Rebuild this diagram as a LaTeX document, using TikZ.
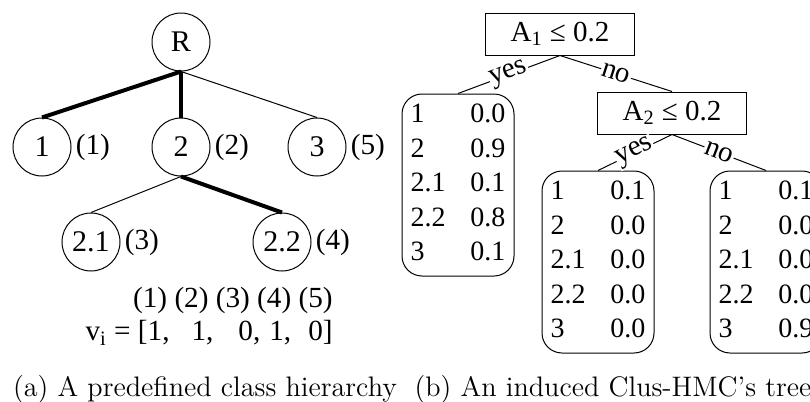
\documentclass[tikz,border=0pt]{standalone}
\usepackage{fontspec}
\newfontfamily\timesfont{Liberation Serif}
\newcommand{\probtab}[5]{\begin{tabular}{@{}l@{\hspace{12.5pt}}r@{}}1 & #1\\ 2 & #2\\ 2.1 & #3\\ 2.2 & #4\\ 3 & #5\end{tabular}}
\begin{document}
\begin{tikzpicture}[x=0.5pt, y=-0.5pt, label distance=2pt,
  cls/.style={circle, draw, line width=0.5pt, minimum size=29pt, inner sep=0pt,
    font=\timesfont\fontsize{15}{18}\selectfont},
  idx/.style={inner sep=0pt, font=\timesfont\fontsize{14.6}{17}\selectfont},
  on/.style={line width=2pt},
  off/.style={line width=0.5pt},
  test/.style={draw, line width=0.5pt, minimum width=74.5pt, minimum height=21pt,
    inner sep=0pt, font=\timesfont\fontsize{14.5}{17}\selectfont},
  leaf/.style={draw, line width=0.5pt, rounded corners=10pt, minimum width=56pt,
    minimum height=91pt, inner sep=2pt, font=\timesfont\fontsize{14}{17.25}\selectfont},
  branch/.style={sloped, fill=white, inner sep=0.5pt, font=\timesfont\fontsize{14.5}{17}\selectfont},
  caption/.style={inner sep=0pt, font=\fontsize{14.1}{17}\selectfont}]
  \useasboundingbox (0, 0) rectangle (810, 402);

  % (a) class hierarchy
  \node[cls] (r) at (181, 42) {R};
  \node[cls, label={[idx]east:(1)}] (c1) at (42, 147) {1};
  \node[cls, label={[idx]east:(2)}] (c2) at (181, 147) {2};
  \node[cls, label={[idx]east:(5)}] (c3) at (317, 147) {3};
  \node[cls, label={[idx]east:(3)}] (c21) at (91, 242) {2.1};
  \node[cls, label={[idx]east:(4)}] (c22) at (282, 242) {2.2};

  \draw[on] (r.south) -- (c1.north);
  \draw[on] (r.south) -- (c2.north);
  \draw[off] (r.south) -- (c3.north);
  \draw[off] (c2.south) -- (c21.north);
  \draw[on] (c2.south) -- (c22.north);

  % label vector
  \node[idx, anchor=east] (pos) at (333, 300) {(1) (2) (3) (4) (5)};
  \node[idx, anchor=east] (vec) at (333, 333)
    {v\textsubscript{i} = [1,\hspace{11pt}1,\hspace{12.5pt}0,\hspace{4.5pt}1,\hspace{8.5pt}0]};

  % (b) Clus-HMC tree
  \node[test] (a1) at (560, 34) {A\textsubscript{1} ≤ 0.2};
  \node[test] (a2) at (672, 113) {A\textsubscript{2} ≤ 0.2};
  \node[leaf] (l1) at (458, 185) {\probtab{0.0}{0.9}{0.1}{0.8}{0.1}};
  \node[leaf] (l2) at (598, 262) {\probtab{0.1}{0.0}{0.0}{0.0}{0.0}};
  \node[leaf] (l3) at (766, 262) {\probtab{0.1}{0.0}{0.0}{0.0}{0.9}};

  \draw[off] (a1.south) -- node[branch] {yes} (l1.north);
  \draw[off] (a1.south) -- node[branch] {no} (a2.north);
  \draw[off] (a2.south) -- node[branch] {yes} (l2.north);
  \draw[off] (a2.south) -- node[branch] {no} (l3.north);

  % captions
  \node[caption] (capa) at (205, 389) {(a) A predefined class hierarchy};
  \node[caption] (capb) at (613, 389) {(b) An induced Clus-HMC's tree};
\end{tikzpicture}
\end{document}
